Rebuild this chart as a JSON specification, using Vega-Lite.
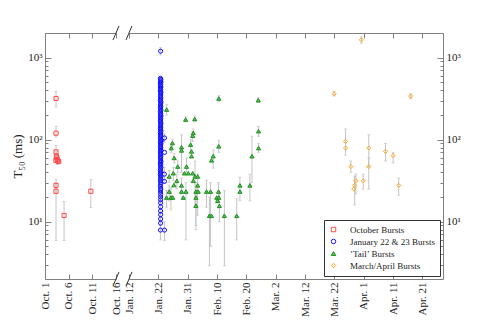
{
"$schema": "https://vega.github.io/schema/vega-lite/v6.json",
"padding": {"left": 11, "top": 25, "right": 5, "bottom": 5},
"bounds": "flush",
"spacing": 13,
"config": {
  "font": "Liberation Serif",
  "view": {"stroke": null},
  "axis": {"grid": false, "domainColor": "#808080", "tickColor": "#808080", "labelColor": "#222222", "titleColor": "#222222", "labelFont": "Liberation Serif", "titleFont": "Liberation Serif", "titleFontWeight": "normal"}
},
"datasets": {
  "bursts": [
    {"group": "October Bursts", "day": 2.33, "t50": 318, "lo": 250, "hi": 390},
    {"group": "October Bursts", "day": 2.33, "t50": 120, "lo": 108, "hi": 145},
    {"group": "October Bursts", "day": 2.33, "t50": 71, "lo": 60, "hi": 85},
    {"group": "October Bursts", "day": 2.4, "t50": 63, "lo": 55, "hi": 72},
    {"group": "October Bursts", "day": 2.5, "t50": 60},
    {"group": "October Bursts", "day": 2.6, "t50": 57, "lo": 50, "hi": 65},
    {"group": "October Bursts", "day": 2.75, "t50": 55},
    {"group": "October Bursts", "day": 2.3, "t50": 56},
    {"group": "October Bursts", "day": 2.9, "t50": 54},
    {"group": "October Bursts", "day": 2.33, "t50": 27.7, "lo": 22, "hi": 33},
    {"group": "October Bursts", "day": 2.33, "t50": 23.5, "lo": 5.9, "hi": 30},
    {"group": "October Bursts", "day": 4.03, "t50": 11.9, "lo": 5.9, "hi": 17.6},
    {"group": "October Bursts", "day": 9.68, "t50": 23.5, "lo": 14.9, "hi": 32.5},

    {"group": "January 22 & 23 Bursts", "day": 113.78, "t50": 1200, "lo": 1080, "hi": 1330},
    {"group": "January 22 & 23 Bursts", "day": 113.7, "t50": 560},
    {"group": "January 22 & 23 Bursts", "day": 113.85, "t50": 545},
    {"group": "January 22 & 23 Bursts", "day": 113.75, "t50": 525, "lo": 480, "hi": 580},
    {"group": "January 22 & 23 Bursts", "day": 113.9, "t50": 505},
    {"group": "January 22 & 23 Bursts", "day": 113.65, "t50": 490},
    {"group": "January 22 & 23 Bursts", "day": 113.8, "t50": 470},
    {"group": "January 22 & 23 Bursts", "day": 113.72, "t50": 455},
    {"group": "January 22 & 23 Bursts", "day": 113.88, "t50": 440, "lo": 400, "hi": 480},
    {"group": "January 22 & 23 Bursts", "day": 113.7, "t50": 425},
    {"group": "January 22 & 23 Bursts", "day": 113.8, "t50": 410},
    {"group": "January 22 & 23 Bursts", "day": 113.66, "t50": 392},
    {"group": "January 22 & 23 Bursts", "day": 113.9, "t50": 380},
    {"group": "January 22 & 23 Bursts", "day": 113.75, "t50": 366},
    {"group": "January 22 & 23 Bursts", "day": 113.82, "t50": 350, "lo": 320, "hi": 385},
    {"group": "January 22 & 23 Bursts", "day": 113.7, "t50": 338},
    {"group": "January 22 & 23 Bursts", "day": 113.86, "t50": 324},
    {"group": "January 22 & 23 Bursts", "day": 113.76, "t50": 312},
    {"group": "January 22 & 23 Bursts", "day": 113.68, "t50": 300},
    {"group": "January 22 & 23 Bursts", "day": 113.9, "t50": 289},
    {"group": "January 22 & 23 Bursts", "day": 113.8, "t50": 277, "lo": 250, "hi": 305},
    {"group": "January 22 & 23 Bursts", "day": 113.72, "t50": 266},
    {"group": "January 22 & 23 Bursts", "day": 113.84, "t50": 255},
    {"group": "January 22 & 23 Bursts", "day": 113.7, "t50": 246},
    {"group": "January 22 & 23 Bursts", "day": 113.78, "t50": 236},
    {"group": "January 22 & 23 Bursts", "day": 113.88, "t50": 228},
    {"group": "January 22 & 23 Bursts", "day": 113.66, "t50": 219, "lo": 195, "hi": 245},
    {"group": "January 22 & 23 Bursts", "day": 113.8, "t50": 210},
    {"group": "January 22 & 23 Bursts", "day": 113.74, "t50": 202},
    {"group": "January 22 & 23 Bursts", "day": 113.9, "t50": 195},
    {"group": "January 22 & 23 Bursts", "day": 113.7, "t50": 187},
    {"group": "January 22 & 23 Bursts", "day": 113.82, "t50": 180, "lo": 160, "hi": 200},
    {"group": "January 22 & 23 Bursts", "day": 113.76, "t50": 173},
    {"group": "January 22 & 23 Bursts", "day": 113.68, "t50": 167},
    {"group": "January 22 & 23 Bursts", "day": 113.88, "t50": 160},
    {"group": "January 22 & 23 Bursts", "day": 113.8, "t50": 154},
    {"group": "January 22 & 23 Bursts", "day": 113.72, "t50": 148, "lo": 130, "hi": 168},
    {"group": "January 22 & 23 Bursts", "day": 113.84, "t50": 142},
    {"group": "January 22 & 23 Bursts", "day": 113.7, "t50": 137},
    {"group": "January 22 & 23 Bursts", "day": 113.78, "t50": 132},
    {"group": "January 22 & 23 Bursts", "day": 113.9, "t50": 127},
    {"group": "January 22 & 23 Bursts", "day": 113.66, "t50": 122},
    {"group": "January 22 & 23 Bursts", "day": 113.8, "t50": 117, "lo": 100, "hi": 135},
    {"group": "January 22 & 23 Bursts", "day": 113.74, "t50": 113},
    {"group": "January 22 & 23 Bursts", "day": 113.86, "t50": 109},
    {"group": "January 22 & 23 Bursts", "day": 113.7, "t50": 105},
    {"group": "January 22 & 23 Bursts", "day": 113.8, "t50": 101},
    {"group": "January 22 & 23 Bursts", "day": 114.1, "t50": 98, "lo": 85, "hi": 112},
    {"group": "January 22 & 23 Bursts", "day": 113.76, "t50": 96},
    {"group": "January 22 & 23 Bursts", "day": 113.68, "t50": 92},
    {"group": "January 22 & 23 Bursts", "day": 113.88, "t50": 89},
    {"group": "January 22 & 23 Bursts", "day": 113.78, "t50": 86},
    {"group": "January 22 & 23 Bursts", "day": 113.7, "t50": 83, "lo": 70, "hi": 96},
    {"group": "January 22 & 23 Bursts", "day": 113.84, "t50": 80},
    {"group": "January 22 & 23 Bursts", "day": 113.74, "t50": 77},
    {"group": "January 22 & 23 Bursts", "day": 113.9, "t50": 74},
    {"group": "January 22 & 23 Bursts", "day": 113.66, "t50": 71},
    {"group": "January 22 & 23 Bursts", "day": 113.8, "t50": 68, "lo": 58, "hi": 78},
    {"group": "January 22 & 23 Bursts", "day": 113.72, "t50": 66},
    {"group": "January 22 & 23 Bursts", "day": 113.86, "t50": 63},
    {"group": "January 22 & 23 Bursts", "day": 113.7, "t50": 61},
    {"group": "January 22 & 23 Bursts", "day": 113.8, "t50": 58.5},
    {"group": "January 22 & 23 Bursts", "day": 113.76, "t50": 56},
    {"group": "January 22 & 23 Bursts", "day": 113.9, "t50": 54, "lo": 46, "hi": 62},
    {"group": "January 22 & 23 Bursts", "day": 113.68, "t50": 52},
    {"group": "January 22 & 23 Bursts", "day": 113.82, "t50": 50},
    {"group": "January 22 & 23 Bursts", "day": 113.72, "t50": 48},
    {"group": "January 22 & 23 Bursts", "day": 113.88, "t50": 46},
    {"group": "January 22 & 23 Bursts", "day": 113.76, "t50": 44, "lo": 36, "hi": 52},
    {"group": "January 22 & 23 Bursts", "day": 113.7, "t50": 42},
    {"group": "January 22 & 23 Bursts", "day": 113.84, "t50": 40.5},
    {"group": "January 22 & 23 Bursts", "day": 113.78, "t50": 39},
    {"group": "January 22 & 23 Bursts", "day": 113.66, "t50": 37.5},
    {"group": "January 22 & 23 Bursts", "day": 113.9, "t50": 36, "lo": 28, "hi": 44},
    {"group": "January 22 & 23 Bursts", "day": 113.74, "t50": 34.5},
    {"group": "January 22 & 23 Bursts", "day": 113.8, "t50": 33},
    {"group": "January 22 & 23 Bursts", "day": 113.7, "t50": 31.5},
    {"group": "January 22 & 23 Bursts", "day": 113.86, "t50": 30},
    {"group": "January 22 & 23 Bursts", "day": 113.76, "t50": 28.5, "lo": 22, "hi": 35},
    {"group": "January 22 & 23 Bursts", "day": 113.7, "t50": 27},
    {"group": "January 22 & 23 Bursts", "day": 113.82, "t50": 25.5},
    {"group": "January 22 & 23 Bursts", "day": 113.78, "t50": 24.5},
    {"group": "January 22 & 23 Bursts", "day": 113.74, "t50": 23, "lo": 17, "hi": 29},
    {"group": "January 22 & 23 Bursts", "day": 113.8, "t50": 21.5},
    {"group": "January 22 & 23 Bursts", "day": 113.76, "t50": 20},
    {"group": "January 22 & 23 Bursts", "day": 113.78, "t50": 18.5, "lo": 13, "hi": 24},
    {"group": "January 22 & 23 Bursts", "day": 113.76, "t50": 17},
    {"group": "January 22 & 23 Bursts", "day": 113.78, "t50": 15.2},
    {"group": "January 22 & 23 Bursts", "day": 113.76, "t50": 13.5, "lo": 9, "hi": 18},
    {"group": "January 22 & 23 Bursts", "day": 113.78, "t50": 12.2},
    {"group": "January 22 & 23 Bursts", "day": 113.78, "t50": 10.8},
    {"group": "January 22 & 23 Bursts", "day": 113.76, "t50": 9.6},
    {"group": "January 22 & 23 Bursts", "day": 113.72, "t50": 7.9, "lo": 6, "hi": 10},
    {"group": "January 22 & 23 Bursts", "day": 115.1, "t50": 7.9, "lo": 5.9, "hi": 10},
    {"group": "January 22 & 23 Bursts", "day": 115.1, "t50": 105, "lo": 92, "hi": 118},
    {"group": "January 22 & 23 Bursts", "day": 115.1, "t50": 70},
    {"group": "January 22 & 23 Bursts", "day": 115.05, "t50": 38, "lo": 30, "hi": 46},
    {"group": "January 22 & 23 Bursts", "day": 115.1, "t50": 31},

    {"group": "’Tail’ Bursts", "day": 115.83, "t50": 233, "lo": 200, "hi": 270},
    {"group": "’Tail’ Bursts", "day": 122.3, "t50": 176, "lo": 165, "hi": 190},
    {"group": "’Tail’ Bursts", "day": 125.4, "t50": 179, "lo": 165, "hi": 195},
    {"group": "’Tail’ Bursts", "day": 133.6, "t50": 318, "lo": 290, "hi": 345},
    {"group": "’Tail’ Bursts", "day": 147.05, "t50": 303, "lo": 285, "hi": 325},
    {"group": "’Tail’ Bursts", "day": 124.9, "t50": 121, "lo": 105, "hi": 135},
    {"group": "’Tail’ Bursts", "day": 124.7, "t50": 112, "lo": 95, "hi": 125},
    {"group": "’Tail’ Bursts", "day": 147.15, "t50": 127, "lo": 110, "hi": 145},
    {"group": "’Tail’ Bursts", "day": 117.8, "t50": 91, "lo": 80, "hi": 100},
    {"group": "’Tail’ Bursts", "day": 117.4, "t50": 79, "lo": 70, "hi": 90},
    {"group": "’Tail’ Bursts", "day": 120.9, "t50": 81, "lo": 40, "hi": 115},
    {"group": "’Tail’ Bursts", "day": 120.9, "t50": 74},
    {"group": "’Tail’ Bursts", "day": 124.0, "t50": 87, "lo": 70, "hi": 100},
    {"group": "’Tail’ Bursts", "day": 124.3, "t50": 72},
    {"group": "’Tail’ Bursts", "day": 124.3, "t50": 63},
    {"group": "’Tail’ Bursts", "day": 118.4, "t50": 60, "lo": 52, "hi": 68},
    {"group": "’Tail’ Bursts", "day": 133.6, "t50": 83, "lo": 70, "hi": 98},
    {"group": "’Tail’ Bursts", "day": 147.15, "t50": 79, "lo": 70, "hi": 90},
    {"group": "’Tail’ Bursts", "day": 131.7, "t50": 63, "lo": 45, "hi": 75},
    {"group": "’Tail’ Bursts", "day": 144.9, "t50": 63, "lo": 30, "hi": 110},
    {"group": "’Tail’ Bursts", "day": 131.1, "t50": 56},
    {"group": "’Tail’ Bursts", "day": 116.7, "t50": 35.6, "lo": 30, "hi": 42},
    {"group": "’Tail’ Bursts", "day": 118.1, "t50": 39, "lo": 32, "hi": 46},
    {"group": "’Tail’ Bursts", "day": 119.6, "t50": 47, "lo": 40, "hi": 55},
    {"group": "’Tail’ Bursts", "day": 119.3, "t50": 31.5, "lo": 25, "hi": 38},
    {"group": "’Tail’ Bursts", "day": 118.3, "t50": 28},
    {"group": "’Tail’ Bursts", "day": 120.9, "t50": 27.7, "lo": 22, "hi": 34},
    {"group": "’Tail’ Bursts", "day": 116.7, "t50": 23.3, "lo": 18, "hi": 28},
    {"group": "’Tail’ Bursts", "day": 115.8, "t50": 19.7, "lo": 15, "hi": 24},
    {"group": "’Tail’ Bursts", "day": 117.3, "t50": 19.7, "lo": 14, "hi": 26},
    {"group": "’Tail’ Bursts", "day": 117.9, "t50": 19.7},
    {"group": "’Tail’ Bursts", "day": 120.9, "t50": 23.3},
    {"group": "’Tail’ Bursts", "day": 122.4, "t50": 23.3, "lo": 6, "hi": 30},
    {"group": "’Tail’ Bursts", "day": 121.5, "t50": 19.7},
    {"group": "’Tail’ Bursts", "day": 122.6, "t50": 47, "lo": 40, "hi": 60},
    {"group": "’Tail’ Bursts", "day": 121.9, "t50": 39},
    {"group": "’Tail’ Bursts", "day": 123.2, "t50": 39},
    {"group": "’Tail’ Bursts", "day": 124.7, "t50": 39},
    {"group": "’Tail’ Bursts", "day": 125.5, "t50": 35.6, "lo": 15, "hi": 55},
    {"group": "’Tail’ Bursts", "day": 126.4, "t50": 35.6},
    {"group": "’Tail’ Bursts", "day": 124.9, "t50": 31.5},
    {"group": "’Tail’ Bursts", "day": 126.4, "t50": 27.7, "lo": 12, "hi": 38},
    {"group": "’Tail’ Bursts", "day": 125.8, "t50": 23.3, "lo": 8, "hi": 30},
    {"group": "’Tail’ Bursts", "day": 126.6, "t50": 23.3},
    {"group": "’Tail’ Bursts", "day": 125.8, "t50": 19.7},
    {"group": "’Tail’ Bursts", "day": 125.8, "t50": 15.7, "lo": 9, "hi": 22},
    {"group": "’Tail’ Bursts", "day": 129.4, "t50": 23.3, "lo": 15, "hi": 32},
    {"group": "’Tail’ Bursts", "day": 130.8, "t50": 23.3, "lo": 5, "hi": 30},
    {"group": "’Tail’ Bursts", "day": 130.4, "t50": 11.8, "lo": 2.9, "hi": 20},
    {"group": "’Tail’ Bursts", "day": 131.1, "t50": 11.8},
    {"group": "’Tail’ Bursts", "day": 132.9, "t50": 19.7},
    {"group": "’Tail’ Bursts", "day": 133.6, "t50": 19.7},
    {"group": "’Tail’ Bursts", "day": 133.5, "t50": 23.3, "lo": 17, "hi": 30},
    {"group": "’Tail’ Bursts", "day": 133.2, "t50": 18},
    {"group": "’Tail’ Bursts", "day": 133.8, "t50": 15.6, "lo": 10, "hi": 23},
    {"group": "’Tail’ Bursts", "day": 135.5, "t50": 11.8, "lo": 2.9, "hi": 24},
    {"group": "’Tail’ Bursts", "day": 139.7, "t50": 11.8, "lo": 6, "hi": 19},
    {"group": "’Tail’ Bursts", "day": 140.8, "t50": 27.7, "lo": 18, "hi": 35},
    {"group": "’Tail’ Bursts", "day": 140.8, "t50": 23.3},
    {"group": "’Tail’ Bursts", "day": 144.2, "t50": 27.7, "lo": 18, "hi": 38},

    {"group": "March/April Bursts", "day": 172.9, "t50": 363, "lo": 340, "hi": 390},
    {"group": "March/April Bursts", "day": 182.2, "t50": 1648, "lo": 1500, "hi": 1800},
    {"group": "March/April Bursts", "day": 199.0, "t50": 340, "lo": 315, "hi": 365},
    {"group": "March/April Bursts", "day": 176.8, "t50": 95.6, "lo": 65, "hi": 135},
    {"group": "March/April Bursts", "day": 176.8, "t50": 79},
    {"group": "March/April Bursts", "day": 184.7, "t50": 79, "lo": 47, "hi": 115},
    {"group": "March/April Bursts", "day": 190.4, "t50": 72, "lo": 55, "hi": 90},
    {"group": "March/April Bursts", "day": 193.0, "t50": 64, "lo": 52, "hi": 70},
    {"group": "March/April Bursts", "day": 178.6, "t50": 47, "lo": 40, "hi": 55},
    {"group": "March/April Bursts", "day": 184.7, "t50": 47, "lo": 25, "hi": 60},
    {"group": "March/April Bursts", "day": 179.9, "t50": 27.7, "lo": 16, "hi": 36},
    {"group": "March/April Bursts", "day": 179.6, "t50": 25},
    {"group": "March/April Bursts", "day": 180.3, "t50": 31.5, "lo": 22, "hi": 38},
    {"group": "March/April Bursts", "day": 182.8, "t50": 31.5, "lo": 25, "hi": 38},
    {"group": "March/April Bursts", "day": 194.9, "t50": 27.7, "lo": 21, "hi": 34}
  ],
  "breaks": [
    {"panel": "L", "x1": 14.36, "x2": 15.64, "y1": 1.64, "y2": 2.44},
    {"panel": "L", "x1": 14.36, "x2": 15.64, "y1": 1640, "y2": 2440},
    {"panel": "R", "x1": 101.98, "x2": 104.02, "y1": 1.64, "y2": 2.44},
    {"panel": "R", "x1": 101.98, "x2": 104.02, "y1": 1640, "y2": 2440}
  ]
},
"resolve": {"scale": {"x": "independent", "y": "independent", "shape": "independent", "stroke": "independent", "fill": "independent"}},
"hconcat": [
  {
    "width": 71, "height": 246,
    "data": {"name": "bursts"},
    "transform": [{"filter": {"field": "day", "range": [0, 15]}}],
    "resolve": {"axis": {"x": "independent", "y": "independent"}},
    "layer": [
      {
        "mark": {"type": "rule", "color": "#c4c4c4", "strokeWidth": 1},
        "encoding": {
          "x": {"field": "day", "type": "quantitative", "scale": {"domain": [0, 15]},
            "axis": {"orient": "bottom", "values": [0, 5, 10, 15], "labelExpr": "datum.value == 0 ? 'Oct. 1' : datum.value == 5 ? 'Oct. 6' : datum.value == 10 ? 'Oct. 11' : 'Oct. 16'", "labelAngle": 270, "labelFontSize": 11, "tickSize": -5, "labelPadding": 8, "title": null, "labelOverlap": false, "labelFlush": false}},
          "y": {"field": "lo", "type": "quantitative", "scale": {"type": "log", "domain": [2, 2000]},
            "axis": {"orient": "left", "values": [2,3,4,5,6,7,8,9,10,20,30,40,50,60,70,80,90,100,200,300,400,500,600,700,800,900,1000,2000], "labelExpr": "datum.value == 10 ? '10¹' : datum.value == 100 ? '10²' : datum.value == 1000 ? '10³' : ''", "tickSize": {"condition": {"test": "datum.value == 10 || datum.value == 100 || datum.value == 1000", "value": -6}, "value": -3}, "labelFontSize": 11, "labelPadding": 9, "labelOverlap": false, "labelFlush": false, "title": "T₅₀ (ms)", "titleFontSize": 13, "titlePadding": 3}},
          "y2": {"field": "hi"}
        }
      },
      {
        "mark": {"type": "tick", "orient": "horizontal", "size": 3, "thickness": 1, "color": "#c4c4c4"},
        "encoding": {
          "x": {"field": "day", "type": "quantitative", "scale": {"domain": [0, 15]}, "axis": null},
          "y": {"field": "lo", "type": "quantitative", "scale": {"type": "log", "domain": [2, 2000]}, "axis": null}
        }
      },
      {
        "mark": {"type": "tick", "orient": "horizontal", "size": 3, "thickness": 1, "color": "#c4c4c4"},
        "encoding": {
          "x": {"field": "day", "type": "quantitative", "scale": {"domain": [0, 15]}, "axis": null},
          "y": {"field": "hi", "type": "quantitative", "scale": {"type": "log", "domain": [2, 2000]}, "axis": null}
        }
      },
      {
        "mark": {"type": "point", "size": 17, "strokeWidth": 1, "opacity": 1},
        "encoding": {
          "x": {"field": "day", "type": "quantitative", "scale": {"domain": [0, 15]},
            "axis": {"orient": "top", "values": [0, 5, 10, 15], "labels": false, "tickSize": -5, "title": null}},
          "y": {"field": "t50", "type": "quantitative", "scale": {"type": "log", "domain": [2, 2000]}, "axis": null},
          "shape": {"field": "group", "type": "nominal", "legend": null, "scale": {"domain": ["October Bursts", "January 22 & 23 Bursts", "’Tail’ Bursts", "March/April Bursts"], "range": ["square", "circle", "triangle-up", "diamond"]}},
          "stroke": {"field": "group", "type": "nominal", "legend": null, "scale": {"domain": ["October Bursts", "January 22 & 23 Bursts", "’Tail’ Bursts", "March/April Bursts"], "range": ["#ff4848", "#1010ff", "#1f8f1f", "#ffa520"]}},
          "fill": {"field": "group", "type": "nominal", "legend": null, "scale": {"domain": ["October Bursts", "January 22 & 23 Bursts", "’Tail’ Bursts", "March/April Bursts"], "range": ["transparent", "transparent", "#5cc05c", "transparent"]}}
        }
      },
      {
        "data": {"name": "breaks"},
        "transform": [{"filter": {"field": "panel", "equal": "L"}}],
        "mark": {"type": "rule", "color": "#333333", "strokeWidth": 1},
        "encoding": {
          "x": {"field": "x1", "type": "quantitative", "scale": {"domain": [0, 15]}, "axis": null},
          "x2": {"field": "x2"},
          "y": {"field": "y1", "type": "quantitative", "scale": {"type": "log", "domain": [2, 2000]}, "axis": null},
          "y2": {"field": "y2"}
        }
      }
    ]
  },
  {
    "width": 314, "height": 246,
    "data": {"name": "bursts"},
    "transform": [{"filter": {"field": "day", "range": [100, 215]}}],
    "resolve": {"axis": {"x": "independent", "y": "independent"}},
    "layer": [
      {
        "mark": {"type": "rule", "color": "#c4c4c4", "strokeWidth": 1},
        "encoding": {
          "x": {"field": "day", "type": "quantitative", "scale": {"domain": [103, 210]},
            "axis": {"orient": "bottom", "values": [103, 113, 123, 133, 143, 153, 163, 173, 183, 193, 203], "labelExpr": "['Jan. 12','Jan. 22','Jan. 31','Feb. 10','Feb. 20','Mar. 2','Mar. 12','Mar. 22','Apr. 1','Apr. 11','Apr. 21'][round((datum.value - 103) / 10)]", "labelAngle": 270, "labelFontSize": 11, "tickSize": -5, "labelPadding": 8, "title": null, "labelOverlap": false, "labelFlush": false}},
          "y": {"field": "lo", "type": "quantitative", "scale": {"type": "log", "domain": [2, 2000]},
            "axis": {"orient": "right", "values": [2,3,4,5,6,7,8,9,10,20,30,40,50,60,70,80,90,100,200,300,400,500,600,700,800,900,1000,2000], "labelExpr": "datum.value == 10 ? '10¹' : datum.value == 100 ? '10²' : datum.value == 1000 ? '10³' : ''", "tickSize": {"condition": {"test": "datum.value == 10 || datum.value == 100 || datum.value == 1000", "value": -6}, "value": -3}, "labelFontSize": 11, "labelPadding": 9, "labelOverlap": false, "labelFlush": false, "title": null}},
          "y2": {"field": "hi"}
        }
      },
      {
        "mark": {"type": "tick", "orient": "horizontal", "size": 3, "thickness": 1, "color": "#c4c4c4"},
        "encoding": {
          "x": {"field": "day", "type": "quantitative", "scale": {"domain": [103, 210]}, "axis": null},
          "y": {"field": "lo", "type": "quantitative", "scale": {"type": "log", "domain": [2, 2000]}, "axis": null}
        }
      },
      {
        "mark": {"type": "tick", "orient": "horizontal", "size": 3, "thickness": 1, "color": "#c4c4c4"},
        "encoding": {
          "x": {"field": "day", "type": "quantitative", "scale": {"domain": [103, 210]}, "axis": null},
          "y": {"field": "hi", "type": "quantitative", "scale": {"type": "log", "domain": [2, 2000]}, "axis": null}
        }
      },
      {
        "mark": {"type": "point", "size": 17, "strokeWidth": 1, "opacity": 1},
        "encoding": {
          "x": {"field": "day", "type": "quantitative", "scale": {"domain": [103, 210]},
            "axis": {"orient": "top", "values": [103, 113, 123, 133, 143, 153, 163, 173, 183, 193, 203], "labels": false, "tickSize": -5, "title": null}},
          "y": {"field": "t50", "type": "quantitative", "scale": {"type": "log", "domain": [2, 2000]}, "axis": null},
          "shape": {"field": "group", "type": "nominal", "scale": {"domain": ["October Bursts", "January 22 & 23 Bursts", "’Tail’ Bursts", "March/April Bursts"], "range": ["square", "circle", "triangle-up", "diamond"]},
            "legend": {"title": null, "orient": "bottom-right", "offset": 3, "strokeColor": "#333333", "fillColor": "white", "padding": 5, "labelFont": "Liberation Serif", "labelFontSize": 9, "labelColor": "#222222", "symbolSize": 20, "symbolStrokeWidth": 1, "rowPadding": 2, "labelOffset": 12, "cornerRadius": 0}},
          "stroke": {"field": "group", "type": "nominal", "scale": {"domain": ["October Bursts", "January 22 & 23 Bursts", "’Tail’ Bursts", "March/April Bursts"], "range": ["#ff4848", "#1010ff", "#1f8f1f", "#ffa520"]},
            "legend": {"title": null, "orient": "bottom-right", "offset": 3, "strokeColor": "#333333", "fillColor": "white", "padding": 5, "labelFont": "Liberation Serif", "labelFontSize": 9, "labelColor": "#222222", "symbolSize": 20, "symbolStrokeWidth": 1, "rowPadding": 2, "labelOffset": 12, "cornerRadius": 0}},
          "fill": {"field": "group", "type": "nominal", "scale": {"domain": ["October Bursts", "January 22 & 23 Bursts", "’Tail’ Bursts", "March/April Bursts"], "range": ["transparent", "transparent", "#5cc05c", "transparent"]},
            "legend": {"title": null, "orient": "bottom-right", "offset": 3, "strokeColor": "#333333", "fillColor": "white", "padding": 5, "labelFont": "Liberation Serif", "labelFontSize": 9, "labelColor": "#222222", "symbolSize": 20, "symbolStrokeWidth": 1, "rowPadding": 2, "labelOffset": 12, "cornerRadius": 0}}
        }
      },
      {
        "data": {"name": "breaks"},
        "transform": [{"filter": {"field": "panel", "equal": "R"}}],
        "mark": {"type": "rule", "color": "#333333", "strokeWidth": 1},
        "encoding": {
          "x": {"field": "x1", "type": "quantitative", "scale": {"domain": [103, 210]}, "axis": null},
          "x2": {"field": "x2"},
          "y": {"field": "y1", "type": "quantitative", "scale": {"type": "log", "domain": [2, 2000]}, "axis": null},
          "y2": {"field": "y2"}
        }
      }
    ]
  }
]
}
